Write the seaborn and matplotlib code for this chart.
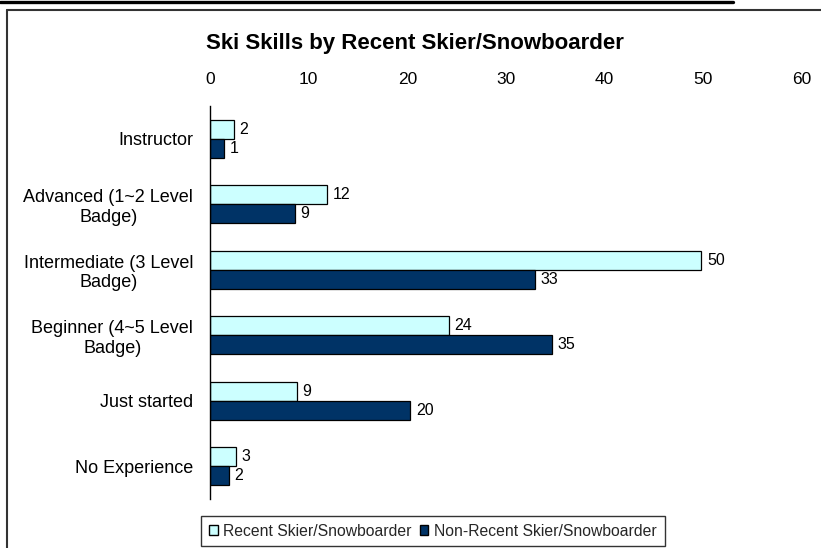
import matplotlib
matplotlib.use("Agg")
import matplotlib.pyplot as plt
from matplotlib.lines import Line2D
import pandas as pd
import seaborn as sns

# Skill levels (top to bottom) and share of respondents (%) per group
skill_levels = [
    "Instructor",
    "Advanced (1~2 Level\nBadge)",
    "Intermediate (3 Level\nBadge)",
    "Beginner (4~5 Level\nBadge)",
    "Just started",
    "No Experience",
]
recent_share = [2.4, 11.9, 49.8, 24.2, 8.8, 2.6]
non_recent_share = [1.4, 8.6, 32.9, 34.7, 20.3, 1.9]
group_names = ["Recent Skier/Snowboarder", "Non-Recent Skier/Snowboarder"]
group_colors = ["#CCFFFF", "#003366"]
x_ticks = [0, 10, 20, 30, 40, 50, 60]

df = pd.DataFrame({
    "skill": skill_levels * 2,
    "share": recent_share + non_recent_share,
    "group": [group_names[0]] * len(skill_levels) + [group_names[1]] * len(skill_levels),
})

sns.set_theme(style="white")
plt.rcParams["font.family"] = ["Liberation Sans", "DejaVu Sans"]

W, H = 821, 548
fig = plt.figure(figsize=(W / 100, H / 100), dpi=100)
ax = fig.add_axes([210 / W, 1 - 499 / H, (802 - 210) / W, (499 - 106) / H])

sns.barplot(
    data=df, y="skill", x="share", hue="group", orient="h",
    hue_order=group_names, palette=group_colors, order=skill_levels,
    saturation=1, width=0.58, gap=0, edgecolor="black", linewidth=0.9,
    ax=ax, legend=False,
)

for cont in ax.containers:
    ax.bar_label(cont, fmt="%.0f", padding=4, fontsize=11.5, color="black")

ax.set_xlim(0, 60)
ax.set_xticks(x_ticks)
ax.xaxis.tick_top()
ax.tick_params(axis="x", length=0, pad=14, labelsize=12.5, colors="black")
ax.tick_params(axis="y", length=0, pad=12, labelsize=13, colors="black")
for lbl in ax.get_yticklabels():
    lbl.set_multialignment("center")
ax.set_xlabel("")
ax.set_ylabel("")
for side in ["top", "right", "bottom"]:
    ax.spines[side].set_visible(False)
ax.spines["left"].set_color("black")
ax.spines["left"].set_linewidth(1.0)
ax.grid(False)

fig.text(415 / W, 1 - 43 / H, "Ski Skills by Recent Skier/Snowboarder",
         ha="center", va="center", fontsize=16, fontweight="bold", color="black")

handles = [plt.Rectangle((0, 0), 1, 1, facecolor=c, edgecolor="black", linewidth=1.0)
           for c in group_colors]
leg = fig.legend(handles, group_names, loc="center", ncol=2,
                 bbox_to_anchor=(433 / W, 1 - 531 / H), fontsize=11.3,
                 frameon=True, fancybox=False, handlelength=0.55, handleheight=0.55,
                 handletextpad=0.35, columnspacing=0.5, borderpad=0.5,
                 borderaxespad=0)
leg.get_frame().set_edgecolor("black")
leg.get_frame().set_linewidth(1.0)

# Page rule above and frame around the chart
fig.add_artist(Line2D([0, 733 / W], [1 - 1.5 / H, 1 - 1.5 / H], color="black", lw=2.4,
                      transform=fig.transFigure))
fig.add_artist(Line2D([6.5 / W, 1], [1 - 10 / H, 1 - 10 / H], color="#333333", lw=1.5,
                      transform=fig.transFigure))
fig.add_artist(Line2D([6.5 / W, 6.5 / W], [1 - 10 / H, 0], color="#333333", lw=1.5,
                      transform=fig.transFigure))

fig.savefig("out.png", dpi=100)
